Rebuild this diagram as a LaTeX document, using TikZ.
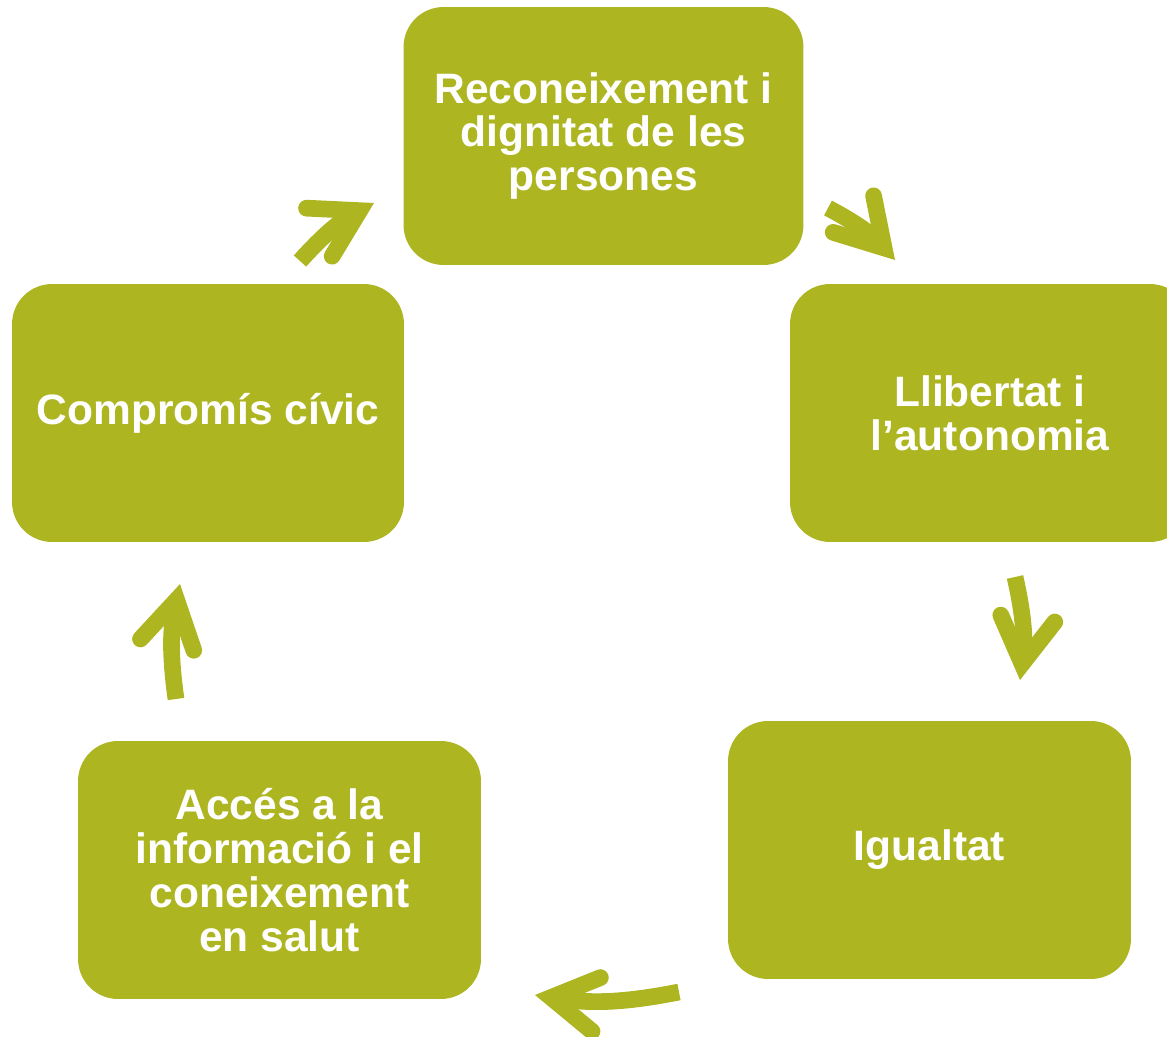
\documentclass[tikz,border=0pt]{standalone}
\usepackage{fontspec}
\setmainfont{Liberation Sans}
\usetikzlibrary{arrows.meta}
\definecolor{oliva}{RGB}{173,181,33}

\tikzset{
  caixa/.style={fill=oliva, rounded corners=0.8cm, minimum width=8cm, minimum height=5.16cm,
    align=center, text=white, font=\fontsize{24.2}{25}\selectfont\bfseries},
  fletxa/.style={draw=oliva, line width=9.5pt,
    -{Straight Barb[length=26pt, width=31pt, line cap=round, line join=miter]}}
}

\begin{document}
\begin{tikzpicture}[x=0.02cm, y=-0.02cm]
  % Marc
  \useasboundingbox (0,0) rectangle (1167,1037);
  \clip (0,0) rectangle (1167,1037);

  % Caixes
  \node[caixa] (reconeixement) at (603.5,136) {Reconeixement i\\dignitat de les\\persones};
  \node[caixa] (llibertat) at (990,413) {Llibertat i\\l’autonomia};
  \node[caixa, minimum width=8.06cm] (igualtat) at (929.5,850) {Igualtat};
  \node[caixa, minimum width=8.06cm] (acces) at (279.5,870) {Accés a la\\informació i el\\coneixement\\en salut};
  \node[caixa, minimum width=7.84cm] (compromis) at (208,413) {Compromís cívic};

  % Extrems de les fletxes
  \coordinate (f1a) at (300,261);
  \coordinate (f1b) at (374,203);
  \coordinate (f2a) at (828,208);
  \coordinate (f2b) at (895,260);
  \coordinate (f3a) at (1015,577);
  \coordinate (f3b) at (1020,680);
  \coordinate (f4a) at (679,992);
  \coordinate (f4b) at (535,995);
  \coordinate (f5a) at (176,699);
  \coordinate (f5b) at (180,584);

  % Fletxes del cicle
  \draw[fletxa] (f1a) to[bend left=10] (f1b);
  \draw[fletxa] (f2a) to[bend left=10] (f2b);
  \draw[fletxa] (f3a) to[bend left=10] (f3b);
  \draw[fletxa] (f4a) to[bend left=10] (f4b);
  \draw[fletxa] (f5a) to[bend left=10] (f5b);
\end{tikzpicture}
\end{document}
